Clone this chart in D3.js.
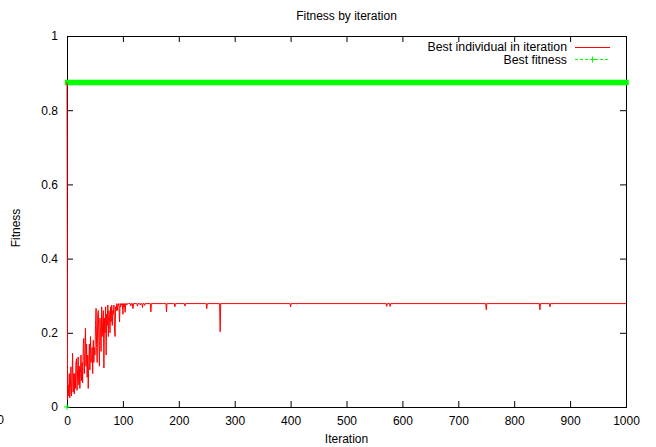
<!DOCTYPE html>
<html><head><meta charset="utf-8">
<script src="https://cdn.jsdelivr.net/npm/d3@7"></script>
<style>body{margin:0;background:#fff}svg{display:block}text{font-family:"Liberation Sans",Arial,sans-serif;fill:#000}</style>
</head><body>
<svg id="c" width="656" height="447"></svg>
<script>
// ---- data ----
const xTicks = [0,100,200,300,400,500,600,700,800,900,1000];
const yTicks = [0,0.2,0.4,0.6,0.8,1];
const yTickLabels = ["0","0.2","0.4","0.6","0.8","1"];
// Best individual in iteration: iterations 0..110 read one by one
const earlyValues = [
 0.875,
 0.02,0.06,0.03,0.09,0.025,0.05,0.108,0.03,0.07,
 0.145,0.04,0.09,0.035,0.09,0.05,0.12,0.13,0.045,0.10,
 0.135,0.06,0.11,0.05,0.09,0.14,0.07,0.12,0.065,0.16,
 0.185,0.09,0.15,0.212,0.11,0.17,0.08,0.14,0.05,0.12,
 0.17,0.10,0.19,0.12,0.13,0.16,0.09,0.18,0.12,0.16,
 0.14,0.22,0.266,0.16,0.12,0.25,0.26,0.18,0.11,0.24,
 0.20,0.15,0.27,0.19,0.23,0.26,0.105,0.24,0.20,0.27,
 0.14,0.25,0.22,0.275,0.19,0.26,0.24,0.20,0.27,0.23,
 0.275,0.22,0.26,0.25,0.275,0.21,0.19,0.27,0.26,0.2787,
 0.26,0.275,0.2787,0.27,0.229,0.2787,0.27,0.2787,0.275,0.2787,
 0.25,0.2787,0.27,0.2787,0.255,0.2787,0.2787,0.275,0.2787,0.2787,0.2787
];
// after iteration 110 the value stays on a plateau, except for these dips
const plateauValue = 0.2787;
const dipIterations = [114,118,126,131,135,139,150,178,193,211,250,274,400,572,578,750,846,864];
const dipValues     = [0.272,0.265,0.272,0.275,0.268,0.274,0.256,0.256,0.270,0.272,0.265,0.203,0.270,0.271,0.271,0.262,0.262,0.270];
// Best fitness
const bestIterations = [0,1,1000];
const bestValues = [0,0.875,0.875];

// ---- build points ----
const redPts = earlyValues.map((v,i)=>[i,v]);
dipIterations.forEach((it,k)=>{
  redPts.push([it-1,plateauValue],[it,dipValues[k]],[it+1,plateauValue]);
});
redPts.push([1000,plateauValue]);
const greenPts = bestIterations.map((it,i)=>[it,bestValues[i]]);

const svg = d3.select("#c");
const L=67,R=626,T=36,B=407;
const x = d3.scaleLinear().domain([0,1000]).range([L,R]);
const y = d3.scaleLinear().domain([0,1]).range([B,T]);

function styleAxis(g){
  g.select(".domain").remove();
  g.selectAll("line").attr("stroke","#000");
  g.selectAll("text").attr("font-size",12).attr("font-family","Liberation Sans, Arial, sans-serif").attr("fill","#000");
}
svg.append("g").attr("transform",`translate(0,${B})`)
  .call(d3.axisBottom(x).tickValues(xTicks).tickSize(-6).tickPadding(9).tickFormat(d3.format("d"))).call(styleAxis);
svg.append("g").attr("transform",`translate(0,${T})`)
  .call(d3.axisTop(x).tickValues(xTicks).tickSize(-6).tickFormat("")).call(styleAxis);
svg.append("g").attr("transform",`translate(${L},0)`)
  .call(d3.axisLeft(y).tickValues(yTicks).tickSize(-6).tickPadding(9).tickFormat((d,i)=>yTickLabels[i])).call(styleAxis);
svg.append("g").attr("transform",`translate(${R},0)`)
  .call(d3.axisRight(y).tickValues(yTicks).tickSize(-6).tickFormat("")).call(styleAxis);

// frame
svg.append("rect").attr("x",L+0.5).attr("y",T+0.5).attr("width",R-L).attr("height",B-T)
  .attr("fill","none").attr("stroke","#000").attr("stroke-width",1);

const line = d3.line().x(d=>x(d[0])).y(d=>y(d[1]));

// green best fitness: band of dense '+' markers
const plateauGreen = greenPts.filter(d=>d[1]>0);
svg.append("path").datum(plateauGreen).attr("d",line)
  .attr("fill","none").attr("stroke","#00ff00").attr("stroke-width",5.5).attr("stroke-linecap","square");
// '+' marker for the iteration-0 point
greenPts.filter(d=>d[1]===0).forEach(d=>{
  svg.append("path").attr("d",`M${x(d[0])-3},${y(d[1])}h6M${x(d[0])},${y(d[1])-3}v6`)
    .attr("stroke","#00ff00").attr("stroke-width",1);
});

// red series
svg.append("path").datum(redPts).attr("d",line)
  .attr("fill","none").attr("stroke","#ff0000").attr("stroke-width",1).attr("stroke-linejoin","miter");

// titles
svg.append("text").attr("x",(L+R)/2).attr("y",20).attr("text-anchor","middle").attr("font-size",12).text("Fitness by iteration");
svg.append("text").attr("x",(L+R)/2).attr("y",443).attr("text-anchor","middle").attr("font-size",12).text("Iteration");
svg.append("text").attr("transform",`translate(20,228) rotate(-90)`).attr("text-anchor","middle").attr("font-size",12).text("Fitness");
// partly visible fragment at the left edge
svg.append("text").attr("x",4).attr("y",424).attr("text-anchor","end").attr("font-size",12).text("0");

// legend
const lg = svg.append("g");
lg.append("text").attr("x",567).attr("y",51).attr("text-anchor","end").attr("font-size",12.3).text("Best individual in iteration");
lg.append("rect").attr("x",575).attr("y",47).attr("width",35).attr("height",1).attr("fill","#ff0000").style("fill","#ff0000");
lg.append("text").attr("x",567).attr("y",64).attr("text-anchor","end").attr("font-size",12.3).text("Best fitness");
lg.append("line").attr("x1",575).attr("x2",610).attr("y1",59.5).attr("y2",59.5).attr("stroke","#00ff00").attr("stroke-dasharray","3,2");
lg.append("path").attr("d","M589.5,59.5h6M592.5,56.5v6").attr("stroke","#00ff00");
</script>
</body></html>
